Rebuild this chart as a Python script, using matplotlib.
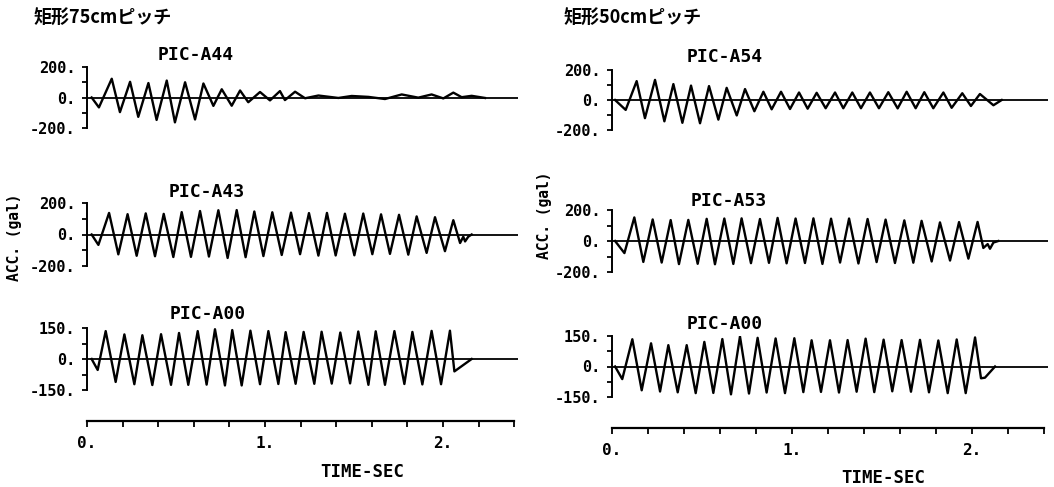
import matplotlib
matplotlib.use("Agg")
import matplotlib.pyplot as plt
from matplotlib.ticker import FixedLocator

# ---------------- data ----------------
headers = ["矩形75cmピッチ", "矩形50cmピッチ"]
titles_left = ["PIC-A44", "PIC-A43", "PIC-A00"]
titles_right = ["PIC-A54", "PIC-A53", "PIC-A00"]
y_limits = [200, 200, 150]
y_label = "ACC. (gal)"
x_label = "TIME-SEC"
time_major = [0, 1, 2]
time_major_labels = ["0.", "1.", "2."]
time_minor = [0.2, 0.4, 0.6, 0.8, 1.2, 1.4, 1.6, 1.8, 2.2, 2.4]
time_end = 2.42

# Left column (矩形75cm)
t_a44 = [0.026, 0.067, 0.139, 0.185, 0.242, 0.288, 0.345, 0.391, 0.448, 0.494,
         0.551, 0.607, 0.654, 0.710, 0.757, 0.813, 0.860, 0.906, 0.972, 1.028,
         1.084, 1.112, 1.169, 1.225, 1.300, 1.412, 1.487, 1.581, 1.674, 1.768,
         1.861, 1.936, 2.002, 2.058, 2.105, 2.161, 2.236]
a_a44 = [0, -65, 123, -96, 103, -127, 95, -147, 111, -163,
         100, -144, 92, -55, 54, -54, 46, -31, 36, -19,
         42, -17, 38, -5, 13, -3, 10, 4, -10, 20,
         -1, 20, -6, 32, 2, 11, -3]

t_a43 = [0.026, 0.064, 0.124, 0.176, 0.228, 0.279, 0.330, 0.382, 0.431, 0.485,
         0.532, 0.584, 0.635, 0.685, 0.738, 0.790, 0.841, 0.891, 0.940, 0.991,
         1.041, 1.094, 1.146, 1.197, 1.247, 1.300, 1.348, 1.397, 1.449, 1.502,
         1.552, 1.603, 1.652, 1.702, 1.753, 1.805, 1.852, 1.908, 1.955, 2.011,
         2.058, 2.096, 2.114, 2.124, 2.142, 2.161]
a_a43 = [0, -66, 137, -126, 129, -135, 134, -138, 131, -143,
         142, -142, 149, -140, 154, -149, 155, -144, 146, -137,
         141, -130, 139, -125, 136, -134, 137, -133, 132, -132,
         133, -125, 128, -123, 125, -128, 115, -117, 110, -106,
         91, -54, -14, -44, -14, 0]

t_a00_left = [0.026, 0.060, 0.105, 0.161, 0.210, 0.266, 0.311, 0.367, 0.416, 0.472,
              0.517, 0.569, 0.622, 0.672, 0.719, 0.775, 0.816, 0.869, 0.918, 0.972,
              1.019, 1.075, 1.116, 1.172, 1.217, 1.277, 1.318, 1.375, 1.423, 1.478,
              1.524, 1.581, 1.622, 1.674, 1.727, 1.783, 1.828, 1.884, 1.936, 1.989,
              2.039, 2.064, 2.161]
a_a00_left = [0, -53, 135, -111, 119, -122, 115, -126, 120, -125,
              126, -125, 135, -124, 144, -128, 140, -128, 137, -122,
              135, -121, 130, -120, 131, -120, 132, -119, 128, -118,
              133, -125, 134, -125, 135, -121, 131, -123, 136, -122,
              137, -60, 0]

# Right column (矩形50cm)
t_a54 = [0.017, 0.076, 0.137, 0.183, 0.239, 0.291, 0.341, 0.391, 0.439, 0.489,
         0.539, 0.591, 0.637, 0.693, 0.739, 0.791, 0.841, 0.887, 0.939, 0.989,
         1.039, 1.087, 1.137, 1.187, 1.239, 1.285, 1.335, 1.383, 1.433, 1.483,
         1.535, 1.587, 1.637, 1.687, 1.735, 1.785, 1.841, 1.887, 1.946, 1.994,
         2.044, 2.119, 2.165]
a_a54 = [0, -66, 126, -121, 134, -142, 106, -152, 96, -155,
         93, -131, 81, -103, 73, -75, 55, -62, 55, -60,
         50, -58, 48, -55, 50, -55, 50, -55, 50, -55,
         52, -56, 55, -55, 52, -55, 50, -52, 45, -40,
         40, -35, 0]

t_a53 = [0.017, 0.069, 0.124, 0.174, 0.226, 0.276, 0.326, 0.372, 0.424, 0.476,
         0.526, 0.572, 0.624, 0.674, 0.720, 0.772, 0.822, 0.872, 0.920, 0.970,
         1.020, 1.072, 1.119, 1.169, 1.217, 1.267, 1.317, 1.369, 1.420, 1.470,
         1.520, 1.572, 1.624, 1.674, 1.720, 1.776, 1.822, 1.878, 1.928, 1.980,
         2.031, 2.063, 2.087, 2.100, 2.119, 2.146]
a_a53 = [0, -78, 152, -135, 139, -139, 135, -149, 136, -147,
         143, -150, 145, -148, 146, -143, 142, -141, 149, -144,
         145, -142, 146, -148, 144, -139, 145, -145, 142, -136,
         138, -142, 133, -140, 130, -132, 120, -126, 122, -114,
         123, -45, -20, -50, -10, 0]

t_a00_right = [0.017, 0.057, 0.113, 0.165, 0.217, 0.267, 0.313, 0.365, 0.415, 0.465,
               0.513, 0.563, 0.613, 0.661, 0.711, 0.761, 0.809, 0.859, 0.909, 0.961,
               1.013, 1.063, 1.109, 1.161, 1.211, 1.261, 1.309, 1.359, 1.409, 1.457,
               1.509, 1.557, 1.609, 1.661, 1.711, 1.761, 1.813, 1.865, 1.915, 1.965,
               2.017, 2.050, 2.072, 2.128]
a_a00_right = [0, -62, 134, -117, 114, -123, 105, -127, 105, -131,
               121, -130, 135, -137, 148, -133, 141, -128, 138, -131,
               139, -126, 129, -125, 129, -128, 130, -124, 137, -126,
               132, -122, 130, -124, 131, -127, 128, -131, 133, -131,
               143, -58, -55, 0]

# ---------------- layout ----------------
W, H = 1054, 487
plt.rcParams['font.family'] = ['DejaVu Sans Mono']
plt.rcParams['font.weight'] = 'bold'
fig = plt.figure(figsize=(W / 100, H / 100), dpi=100)
fig.patch.set_facecolor('white')


def axes_px(x0, x1, ytop, ybot):
    return fig.add_axes([x0 / W, 1 - ybot / H, (x1 - x0) / W, (ybot - ytop) / H])


def draw_panel(x0, pps, ytop, ybot, t, a, M):
    ax = axes_px(x0, x0 + time_end * pps, ytop, ybot)
    ax.patch.set_visible(False)
    ax.set_xlim(0, time_end)
    ax.set_ylim(-M, M)
    for s in ('top', 'right', 'bottom'):
        ax.spines[s].set_visible(False)
    ax.spines['left'].set_bounds(-M, M)
    ax.spines['left'].set_linewidth(1.4)
    ax.set_xticks([])
    ax.set_yticks([-M, 0, M])
    ax.set_yticklabels([f"{-M}.", "0.", f"{M}."])
    ax.yaxis.set_minor_locator(FixedLocator([-M / 2, M / 2]))
    ax.tick_params(axis='y', which='both', direction='out', length=3.5,
                   width=1.3, pad=5, labelsize=11)
    ax.axhline(0, color='black', lw=1.3)
    ax.plot(t, a, color='black', lw=1.7, solid_joinstyle='round')
    return ax


def draw_ruler(x0, pps, y):
    ax = axes_px(x0, x0 + time_end * pps, y - 1, y)
    ax.patch.set_visible(False)
    ax.set_xlim(0, time_end)
    ax.set_yticks([])
    for s in ('top', 'right', 'left'):
        ax.spines[s].set_visible(False)
    ax.spines['bottom'].set_bounds(0, time_minor[-1])
    ax.spines['bottom'].set_linewidth(1.6)
    ax.set_xticks(time_major)
    ax.set_xticklabels(time_major_labels)
    ax.xaxis.set_minor_locator(FixedLocator(time_minor))
    ax.tick_params(axis='x', which='both', direction='out', length=4,
                   width=1.3, pad=7, labelsize=11.5)
    return ax


columns = [
    dict(x0=87, pps=178, rows=[(67, 128), (203, 266), (328, 390)],
         series=[(t_a44, a_a44), (t_a43, a_a43), (t_a00_left, a_a00_left)],
         titles=titles_left, title_pos=[(196, 55), (207, 192), (208, 314)],
         header_pos=(33, 18), ylab_pos=(15, 237), ruler_y=421,
         xlab_pos=(362, 472)),
    dict(x0=612, pps=180, rows=[(70, 130), (210, 272), (336, 397)],
         series=[(t_a54, a_a54), (t_a53, a_a53), (t_a00_right, a_a00_right)],
         titles=titles_right, title_pos=[(725, 57), (729, 201), (725, 324)],
         header_pos=(563, 18), ylab_pos=(545, 215), ruler_y=428,
         xlab_pos=(883, 478)),
]

for ci, col in enumerate(columns):
    for ri, ((ytop, ybot), (t, a)) in enumerate(zip(col['rows'], col['series'])):
        draw_panel(col['x0'], col['pps'], ytop, ybot, t, a, y_limits[ri])
        tx, ty = col['title_pos'][ri]
        fig.text(tx / W, 1 - ty / H, col['titles'][ri], ha='center', va='center',
                 fontsize=13, fontweight='bold')
    draw_ruler(col['x0'], col['pps'], col['ruler_y'])
    hx, hy = col['header_pos']
    fig.text(hx / W, 1 - hy / H, headers[ci], ha='left', va='center',
             fontsize=13, fontweight='bold',
             family=['Noto Sans CJK JP', 'DejaVu Sans'])
    lx, ly = col['ylab_pos']
    fig.text(lx / W, 1 - ly / H, y_label, ha='center', va='center',
             rotation=90, fontsize=10.5, fontweight='bold')
    xx, xy = col['xlab_pos']
    fig.text(xx / W, 1 - xy / H, x_label, ha='center', va='center',
             fontsize=12.5, fontweight='bold')

fig.savefig('out.png', dpi=100, facecolor='white')
